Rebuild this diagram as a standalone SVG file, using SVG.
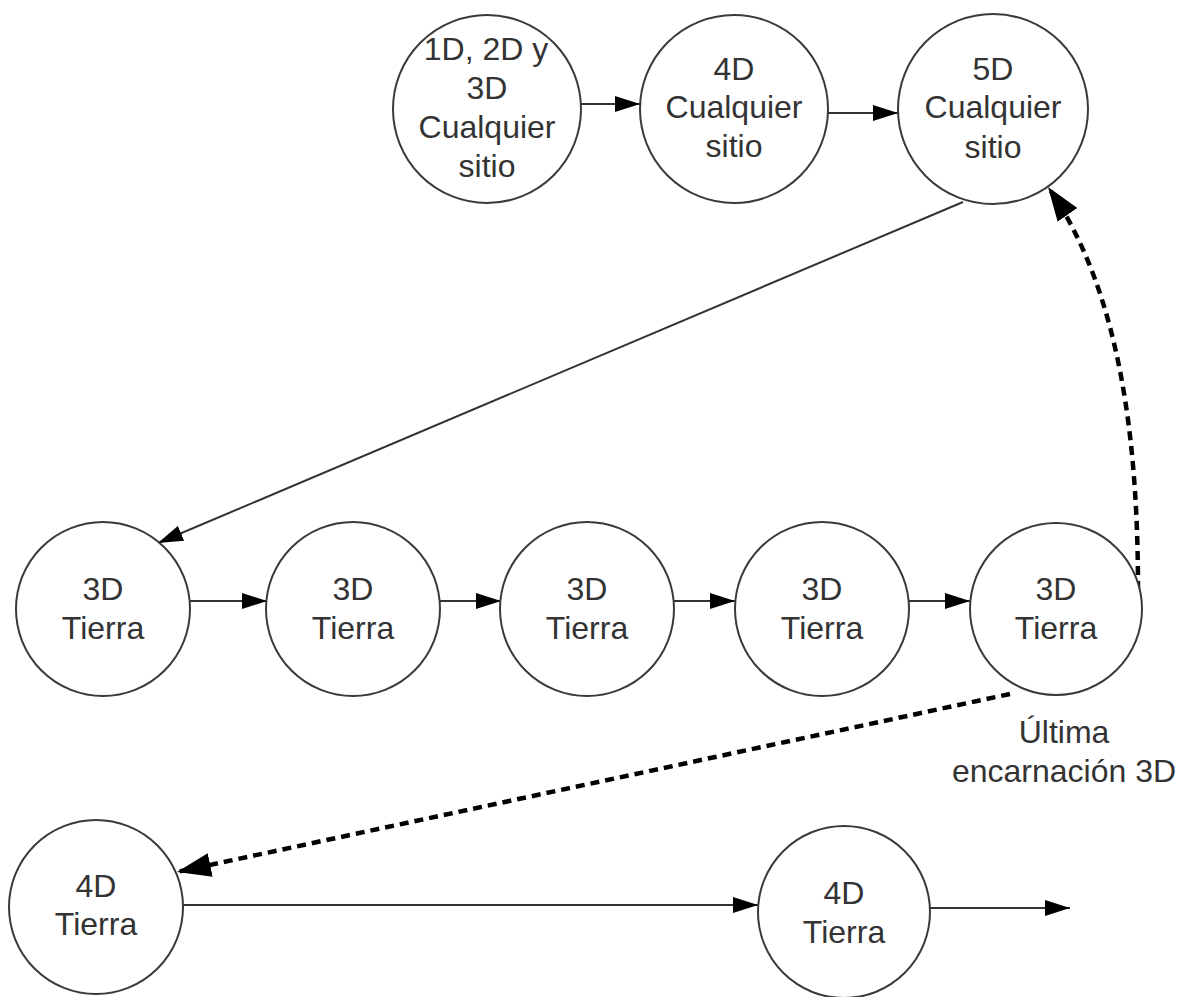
<svg xmlns="http://www.w3.org/2000/svg" width="1182" height="997" viewBox="0 0 1182 997">
<style>
.node circle{fill:#fff;stroke:#3a3a3a;stroke-width:2}
.node text{font-family:"Liberation Sans",Arial,sans-serif;font-size:32px;fill:#333;text-anchor:middle}
.lbl{font-family:"Liberation Sans",Arial,sans-serif;font-size:32px;fill:#333;text-anchor:middle}
.solid{fill:none;stroke:#333;stroke-width:2;marker-end:url(#ah)}
.dash{fill:none;stroke:#000;stroke-width:4.5;stroke-dasharray:9 6;marker-end:url(#ahd)}
</style>
<defs>
<marker id="ah" markerUnits="userSpaceOnUse" markerWidth="26" markerHeight="16" refX="25" refY="8" orient="auto"><path d="M0,0 L25,8 L0,16 z" fill="#000"/></marker>
<marker id="ahd" markerUnits="userSpaceOnUse" markerWidth="36" markerHeight="24" refX="34" refY="12" orient="auto"><path d="M0,0 L34,12 L0,24 z" fill="#000"/></marker>
</defs>
<rect width="1182" height="997" fill="#fff"/>
<g id="connectors">
<path class="solid" d="M581,104 L640,104"/>
<path class="solid" d="M828,113 L898,113"/>
<path class="solid" d="M963,202 L158,543"/>
<path class="solid" d="M190,601 L267,601"/>
<path class="solid" d="M440,601 L501,601"/>
<path class="solid" d="M674,601 L735,601"/>
<path class="solid" d="M909,601 L970,601"/>
<path class="solid" d="M183,905 L758,905"/>
<path class="solid" d="M930,908 L1070,908"/>
<path class="dash" d="M1138,590 C1138,440 1120,290 1048,187"/>
<path class="dash" d="M1010,694 L177,872"/>
</g>
<g id="n1" class="node"><circle cx="487" cy="109" r="94"/><text x="486" y="60">1D, 2D y</text><text x="487" y="99">3D</text><text x="487" y="138">Cualquier</text><text x="487" y="177">sitio</text></g>
<g id="n2" class="node"><circle cx="734" cy="109" r="94"/><text x="734" y="80">4D</text><text x="734" y="118">Cualquier</text><text x="734" y="157">sitio</text></g>
<g id="n3" class="node"><circle cx="993" cy="109" r="95"/><text x="993" y="80">5D</text><text x="993" y="118">Cualquier</text><text x="993" y="158">sitio</text></g>
<g id="m1" class="node"><circle cx="103" cy="609" r="87"/><text x="103" y="600">3D</text><text x="103" y="639">Tierra</text></g>
<g id="m2" class="node"><circle cx="353" cy="609" r="87"/><text x="353" y="600">3D</text><text x="353" y="639">Tierra</text></g>
<g id="m3" class="node"><circle cx="587" cy="609" r="87"/><text x="587" y="600">3D</text><text x="587" y="639">Tierra</text></g>
<g id="m4" class="node"><circle cx="822" cy="609" r="87"/><text x="822" y="600">3D</text><text x="822" y="639">Tierra</text></g>
<g id="m5" class="node"><circle cx="1056" cy="609" r="86"/><text x="1056" y="600">3D</text><text x="1056" y="639">Tierra</text></g>
<g id="b1" class="node"><circle cx="96" cy="907" r="87"/><text x="96" y="897">4D</text><text x="96" y="935">Tierra</text></g>
<g id="b2" class="node"><circle cx="844" cy="912" r="86"/><text x="844" y="904">4D</text><text x="844" y="943">Tierra</text></g>
<g id="label"><text class="lbl" x="1064" y="743">Última</text><text class="lbl" x="1064" y="782">encarnación 3D</text></g>
</svg>
